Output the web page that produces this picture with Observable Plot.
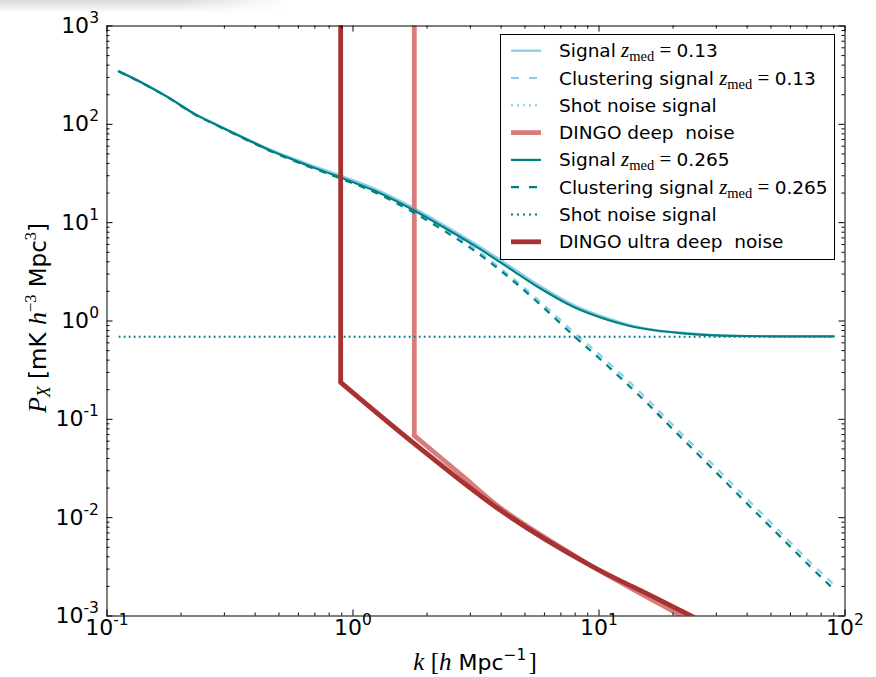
<!DOCTYPE html>
<html><head><meta charset="utf-8">
<script src="https://cdn.jsdelivr.net/npm/d3@7"></script>
<script src="https://cdn.jsdelivr.net/npm/@observablehq/plot@0.6"></script>
<style>
html,body{margin:0;padding:0;background:#fff;}
#chart{position:relative;width:876px;height:677px;}
#shadow{position:absolute;left:0;top:0;width:290px;height:13px;background:linear-gradient(to bottom,rgba(0,0,0,0.15),rgba(0,0,0,0));-webkit-mask-image:linear-gradient(to right,#000 60%,transparent);mask-image:linear-gradient(to right,#000 60%,transparent);pointer-events:none;}
svg{display:block;}
</style></head><body>
<div id="chart"><div id="shadow"></div></div>
<script>
// ---- data ----
const kSignal = [0.1117, 0.141, 0.176, 0.2256, 0.2805, 0.3715, 0.477, 0.653, 0.864, 1.218, 1.66, 2.27, 3.11, 4.25, 5.80, 7.93, 10.8, 13.6, 17.0, 21.9, 28, 35.4, 55, 90];
const signal013 = [346, 260, 191, 130, 99, 71, 53.5, 39.8, 31, 22.3, 15.3, 9.9, 6.2, 3.75, 2.25, 1.45, 1.07, 0.90, 0.81, 0.76, 0.725, 0.708, 0.70, 0.70];
const signal0265 = [346, 259, 190, 128.5, 97.7, 69.8, 52.2, 38.3, 29.6, 21.2, 14.5, 9.37, 5.87, 3.53, 2.13, 1.38, 1.03, 0.88, 0.80, 0.75, 0.72, 0.705, 0.698, 0.697];

const kCluster = [0.1117, 0.141, 0.176, 0.2256, 0.2805, 0.3715, 0.477, 0.653, 0.864, 1.218, 1.66, 2.27, 3.11, 4.25, 5.80, 7.93, 10, 15, 20, 30, 40, 50, 70, 89];
const cluster013 = [345, 259, 190, 129, 98, 70.3, 52.8, 39.1, 30.3, 21.6, 14.6, 9.2, 5.5, 3.0, 1.55, 0.76, 0.46, 0.18, 0.087, 0.032, 0.0155, 0.0089, 0.0038, 0.00215];
const cluster0265 = [345, 258, 189, 127.5, 97, 69, 51.5, 37.6, 28.9, 20.5, 13.8, 8.7, 5.2, 2.85, 1.45, 0.70, 0.42, 0.163, 0.0789, 0.0287, 0.0139, 0.00797, 0.00344, 0.00192];

const kShot = [0.1117, 90];
const shot013 = [0.69, 0.69];
const shot0265 = [0.69, 0.69];

const kDeep = [1.775, 1.775, 2.83, 4.0, 9.0, 12.3, 16.8, 21.6, 27];
const noiseDeep = [1e4, 0.0684, 0.0257, 0.0124, 0.0034, 0.00218, 0.00142, 0.001, 0.00072];

const kUltra = [0.891, 0.891, 1.77, 3.99, 9.0, 16.8, 23.7, 30];
const noiseUltra = [1e4, 0.238, 0.057, 0.0118, 0.00338, 0.00155, 0.001, 0.00074];

const xTickValues = [0.1, 1, 10, 100];
const xTickExps = ["-1", "0", "1", "2"];
const yTickValues = [1e-3, 1e-2, 1e-1, 1, 10, 100, 1000];
const yTickExps = ["-3", "-2", "-1", "0", "1", "2", "3"];

const seriesLabels = ["Signal", "Clustering signal", "Shot noise signal", "DINGO deep  noise", "Signal", "Clustering signal", "Shot noise signal", "DINGO ultra deep  noise"];
const seriesZ = ["0.13", "0.13", null, null, "0.265", "0.265", null, null];
const seriesColors = ["#87ceeb", "#87ceeb", "#87ceeb", "#d77d7d", "#008080", "#008080", "#008080", "#a83232"];
const seriesDash = [null, "7,7", "1.6,3.4", null, null, "7,7", "1.6,3.4", null];
const seriesWidth = [2.2, 2.2, 2, 4.8, 2.2, 2.2, 2, 4.8];

// ---- helpers ----
const rows = (ks, ps) => ks.map((k, i) => ({k, p: ps[i]}));
const W = 876, H = 677;
const mL = 106.5, mR = 31.5, mT = 25.5, mB = 61.5;
const frameW = W - mL - mR, frameH = H - mT - mB;

const sans = "DejaVu Sans";
const serif = "Liberation Serif";

function lineMark(data, idx, curve) {
  return Plot.line(data, {x: "k", y: "p", stroke: seriesColors[idx], strokeWidth: seriesWidth[idx],
    strokeDasharray: seriesDash[idx] || undefined, curve: curve || "catmull-rom", clip: true,
    strokeLinejoin: "round", strokeLinecap: seriesDash[idx] ? "butt" : "round"});
}
function noiseMarks(ks, ps, idx) {
  const d = rows(ks, ps);
  return [
    Plot.line(d.slice(0, 2), {x: "k", y: "p", stroke: seriesColors[idx], strokeWidth: seriesWidth[idx], clip: true, strokeLinecap: "butt"}),
    Plot.line(d.slice(1), {x: "k", y: "p", stroke: seriesColors[idx], strokeWidth: seriesWidth[idx], clip: true, curve: "catmull-rom", strokeLinejoin: "round"})
  ];
}

const xAll = d3.scaleLog().domain([0.1, 100]).ticks();
const yAll = d3.scaleLog().domain([1e-3, 1e3]).ticks();
const isMajor = v => Math.abs(Math.log10(v) - Math.round(Math.log10(v))) < 1e-9;
const xMinor = xAll.filter(v => !isMajor(v));
const yMinor = yAll.filter(v => !isMajor(v));

const plot = Plot.plot({
  width: W, height: H,
  marginLeft: mL, marginRight: mR, marginTop: mT, marginBottom: mB,
  x: {type: "log", domain: [0.1, 100], axis: null},
  y: {type: "log", domain: [1e-3, 1e3], axis: null},
  style: {background: "transparent", fontFamily: sans, overflow: "visible"},
  marks: [
    lineMark(rows(kSignal, signal013), 0),
    lineMark(rows(kCluster, cluster013), 1),
    lineMark(rows(kShot, shot013), 2, "linear"),
    ...noiseMarks(kDeep, noiseDeep, 3),
    lineMark(rows(kSignal, signal0265), 4),
    lineMark(rows(kCluster, cluster0265), 5),
    lineMark(rows(kShot, shot0265), 6, "linear"),
    ...noiseMarks(kUltra, noiseUltra, 7),
    // ticks (inward, all four sides)
    Plot.tickX(xTickValues, {x: d => d, insetTop: frameH - 6, stroke: "#000"}),
    Plot.tickX(xTickValues, {x: d => d, insetBottom: frameH - 6, stroke: "#000"}),
    Plot.tickX(xMinor, {x: d => d, insetTop: frameH - 3, stroke: "#000"}),
    Plot.tickX(xMinor, {x: d => d, insetBottom: frameH - 3, stroke: "#000"}),
    Plot.tickY(yTickValues, {y: d => d, insetRight: frameW - 6, stroke: "#000"}),
    Plot.tickY(yTickValues, {y: d => d, insetLeft: frameW - 6, stroke: "#000"}),
    Plot.tickY(yMinor, {y: d => d, insetRight: frameW - 3, stroke: "#000"}),
    Plot.tickY(yMinor, {y: d => d, insetLeft: frameW - 3, stroke: "#000"}),
    Plot.frame({stroke: "#000", strokeWidth: 1}),
    // tick labels
    Plot.text(xTickValues, {x: d => d, frameAnchor: "bottom", dy: 19, text: (d, i) => xTickExps[i],
      fontSize: 22, fill: "#000", textAnchor: "middle"}),
    Plot.text(yTickValues, {y: d => d, frameAnchor: "left", dx: -8, text: (d, i) => yTickExps[i],
      fontSize: 22, fill: "#000", textAnchor: "end"})
  ]
});

const svg = d3.select(plot);
// tick labels as 10^n with superscripts
svg.selectAll('g[aria-label="text"] text').each(function () {
  const exp = this.textContent;
  const t = d3.select(this);
  t.text("10");
  t.append("tspan").attr("dy", -10).attr("font-size", 15.5).text(exp);
});

// axis labels
const xl = svg.append("text").attr("x", 475).attr("y", 670).attr("text-anchor", "middle")
  .attr("font-size", 22).attr("font-family", sans).style("white-space", "pre").attr("fill", "#000");
xl.append("tspan").attr("font-family", serif).attr("font-style", "italic").attr("font-size", 25).text("k");
xl.append("tspan").attr("font-family", serif).attr("font-size", 25).text(" [");
xl.append("tspan").attr("font-family", serif).attr("font-style", "italic").attr("font-size", 25).text("h");
xl.append("tspan").text(" Mpc");
xl.append("tspan").attr("font-size", 15.5).attr("dy", -10).text("−1");
xl.append("tspan").attr("font-family", serif).attr("font-size", 25).attr("dx", 2).attr("dy", 10).text("]");

const yl = svg.append("text").attr("transform", "translate(46,318) rotate(-90)").attr("text-anchor", "middle")
  .attr("font-size", 23).attr("font-family", sans).style("white-space", "pre").attr("fill", "#000");
yl.append("tspan").attr("font-family", serif).attr("font-style", "italic").attr("font-size", 26).text("P");
yl.append("tspan").attr("font-family", serif).attr("font-style", "italic").attr("font-size", 18).attr("dy", 4).text("X");
yl.append("tspan").attr("dy", -4).text(" [mK ");
yl.append("tspan").attr("font-family", serif).attr("font-style", "italic").attr("font-size", 26).text("h");
yl.append("tspan").attr("font-family", serif).attr("font-size", 16.5).attr("dy", -10).text("−3");
yl.append("tspan").attr("dy", 10).text(" Mpc");
yl.append("tspan").attr("font-family", serif).attr("font-size", 16.5).attr("dy", -10).text("3");
yl.append("tspan").attr("dy", 10).text("]");

// legend
const lg = svg.append("g");
lg.append("rect").attr("x", 500.5).attr("y", 34.5).attr("width", 334).attr("height", 225)
  .attr("fill", "#fff").attr("stroke", "#000").attr("stroke-width", 1);
seriesLabels.forEach((lab, i) => {
  const cy = 50.7 + i * 27.3;
  lg.append("line").attr("x1", 511).attr("x2", 541).attr("y1", cy).attr("y2", cy)
    .attr("stroke", seriesColors[i]).attr("stroke-width", seriesWidth[i])
    .attr("stroke-dasharray", seriesDash[i] ? (seriesDash[i] === "7,7" ? "8,10" : "2,4") : null);
  const t = lg.append("text").attr("x", 559).attr("y", cy + 6.5).attr("font-family", sans)
    .attr("text-anchor", "start").attr("font-size", 18.5).attr("fill", "#000").style("white-space", "pre");
  t.append("tspan").text(lab);
  if (seriesZ[i]) {
    t.append("tspan").attr("font-family", serif).attr("font-style", "italic").attr("font-size", 21).text(" z");
    t.append("tspan").attr("font-family", serif).attr("font-size", 14.5).attr("dy", 4).text("med");
    t.append("tspan").attr("font-family", serif).attr("font-size", 21).attr("dy", -4).text(" = ");
    t.append("tspan").text(seriesZ[i]);
  }
});

document.getElementById("chart").appendChild(plot);
</script>
</body></html>
